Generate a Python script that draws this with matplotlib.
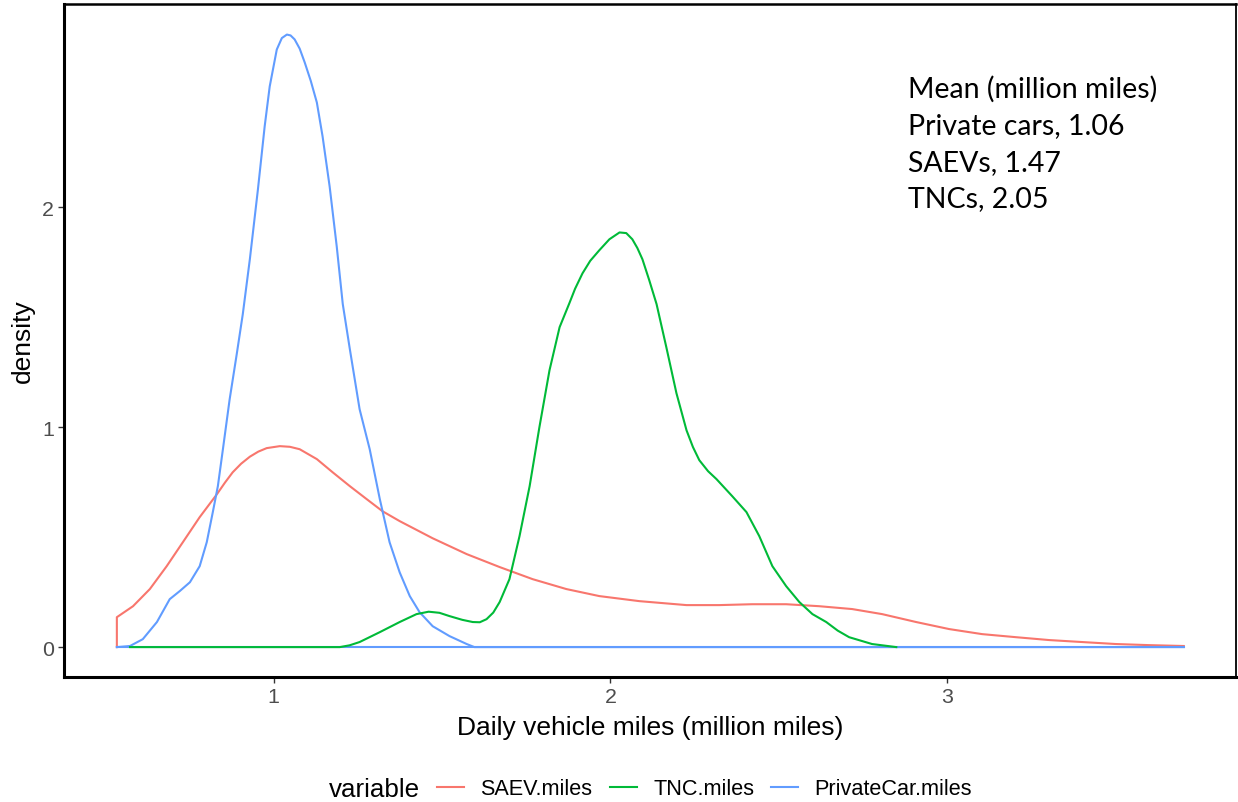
import matplotlib
matplotlib.use("Agg")
import matplotlib.pyplot as plt
from matplotlib.lines import Line2D

plt.rcParams['font.family'] = ['Liberation Sans', 'DejaVu Sans']

# density curves (x in million miles, y = density)
saev_x = [0.534, 0.534, 0.582, 0.632, 0.682, 0.730, 0.780, 0.831, 0.855, 0.878, 0.903, 0.929,
          0.954, 0.979, 1.018, 1.048, 1.077, 1.128, 1.175, 1.226, 1.276, 1.323, 1.374, 1.472,
          1.573, 1.671, 1.769, 1.869, 1.967, 2.086, 2.226, 2.323, 2.421, 2.522, 2.620, 2.718,
          2.807, 2.908, 3.006, 3.104, 3.205, 3.303, 3.401, 3.501, 3.599, 3.703]
saev_y = [0.0, 0.136, 0.186, 0.264, 0.368, 0.477, 0.591, 0.695, 0.748, 0.795, 0.834, 0.866,
          0.889, 0.905, 0.914, 0.911, 0.900, 0.855, 0.795, 0.732, 0.673, 0.618, 0.573, 0.495,
          0.423, 0.364, 0.309, 0.264, 0.232, 0.209, 0.191, 0.191, 0.195, 0.195, 0.186, 0.173,
          0.150, 0.114, 0.082, 0.059, 0.045, 0.032, 0.023, 0.014, 0.009, 0.005]

tnc_x = [0.573, 1.196, 1.225, 1.255, 1.315, 1.374, 1.424, 1.460, 1.492, 1.522, 1.560, 1.591,
         1.612, 1.632, 1.652, 1.671, 1.700, 1.730, 1.760, 1.789, 1.819, 1.849, 1.878, 1.895,
         1.917, 1.940, 1.967, 1.997, 2.027, 2.047, 2.065, 2.080, 2.095, 2.115, 2.137, 2.166,
         2.196, 2.226, 2.245, 2.264, 2.290, 2.315, 2.362, 2.404, 2.442, 2.481, 2.522, 2.561,
         2.600, 2.641, 2.675, 2.709, 2.777, 2.849]
tnc_y = [0.0, 0.0, 0.008, 0.023, 0.068, 0.114, 0.150, 0.161, 0.156, 0.141, 0.124, 0.114,
         0.113, 0.127, 0.157, 0.205, 0.309, 0.505, 0.732, 1.000, 1.259, 1.455, 1.564, 1.630,
         1.700, 1.757, 1.805, 1.855, 1.886, 1.883, 1.855, 1.815, 1.764, 1.670, 1.560, 1.364,
         1.155, 0.986, 0.910, 0.850, 0.800, 0.764, 0.686, 0.614, 0.505, 0.368, 0.277, 0.205,
         0.150, 0.114, 0.075, 0.045, 0.014, 0.0]

car_x = [0.534, 0.573, 0.611, 0.653, 0.691, 0.721, 0.751, 0.780, 0.801, 0.819, 0.834, 0.849,
         0.869, 0.890, 0.908, 0.929, 0.953, 0.973, 0.988, 1.009, 1.024, 1.039, 1.050, 1.062,
         1.077, 1.092, 1.110, 1.128, 1.145, 1.166, 1.187, 1.205, 1.226, 1.255, 1.285, 1.315,
         1.344, 1.374, 1.404, 1.433, 1.472, 1.522, 1.573, 1.596, 3.703]
car_y = [0.0, 0.005, 0.036, 0.114, 0.218, 0.255, 0.295, 0.368, 0.477, 0.614, 0.732, 0.900,
         1.127, 1.332, 1.514, 1.764, 2.082, 2.368, 2.550, 2.718, 2.770, 2.786, 2.782, 2.764,
         2.722, 2.659, 2.575, 2.477, 2.323, 2.095, 1.823, 1.560, 1.355, 1.082, 0.900, 0.673,
         0.477, 0.340, 0.232, 0.159, 0.095, 0.050, 0.014, 0.0, 0.0]

labels = ['SAEV.miles', 'TNC.miles', 'PrivateCar.miles']
colors = ['#F8766D', '#00BA38', '#619CFF']
x_min, x_max = 0.534, 3.703

mean_lines = ['Mean (million miles)', 'Private cars, 1.06', 'SAEVs, 1.47', 'TNCs, 2.05']

fig = plt.figure(figsize=(12.38, 8.03), dpi=100)
ax = fig.add_axes([64/1238, 1 - 678/803, (1236 - 64)/1238, (678 - 5)/803])

lw = 1.5
ax.plot(saev_x, saev_y, color=colors[0], lw=lw)
ax.plot([x_min, x_max], [0, 0], color=colors[2], lw=lw)   # baseline of the car polygon
ax.plot(car_x, car_y, color=colors[2], lw=lw)
ax.plot(tnc_x, tnc_y, color=colors[1], lw=lw)

ax.set_xlim(0.377, 3.858)
ax.set_ylim(-0.136, 2.925)
ax.set_xticks([1, 2, 3])
ax.set_yticks([0, 1, 2])
ax.tick_params(axis='both', length=4, width=1, color='#333333', labelcolor='#4D4D4D',
               labelsize=15.4, pad=3)

for side in ['left', 'bottom']:
    ax.spines[side].set_linewidth(2.2)
ax.spines['top'].set_linewidth(1.8)
ax.spines['right'].set_linewidth(1.3)

ax.set_xlabel('Daily vehicle miles (million miles)', fontsize=19, labelpad=7)
ax.set_ylabel('density', fontsize=19, labelpad=5)

ty = [2.502, 2.336, 2.170, 2.005]
for line, yy in zip(mean_lines, ty):
    ax.text(2.884, yy, line, fontsize=20.5, family=['Lato', 'DejaVu Sans'], va='baseline',
            ha='left', color='black')

fig.text(329/1238, 1 - 790/803, 'variable', fontsize=18.7, va='center', ha='left')
handles = [Line2D([0], [0], color=c, lw=lw) for c in colors]
fig.legend(handles, labels, loc='center left', bbox_to_anchor=(437/1238, 1 - 790/803),
           ncol=3, frameon=False, fontsize=15.6, handlelength=1.25, handletextpad=0.75,
           columnspacing=0.8, borderpad=0, borderaxespad=0)

fig.savefig('out.png', dpi=100)
